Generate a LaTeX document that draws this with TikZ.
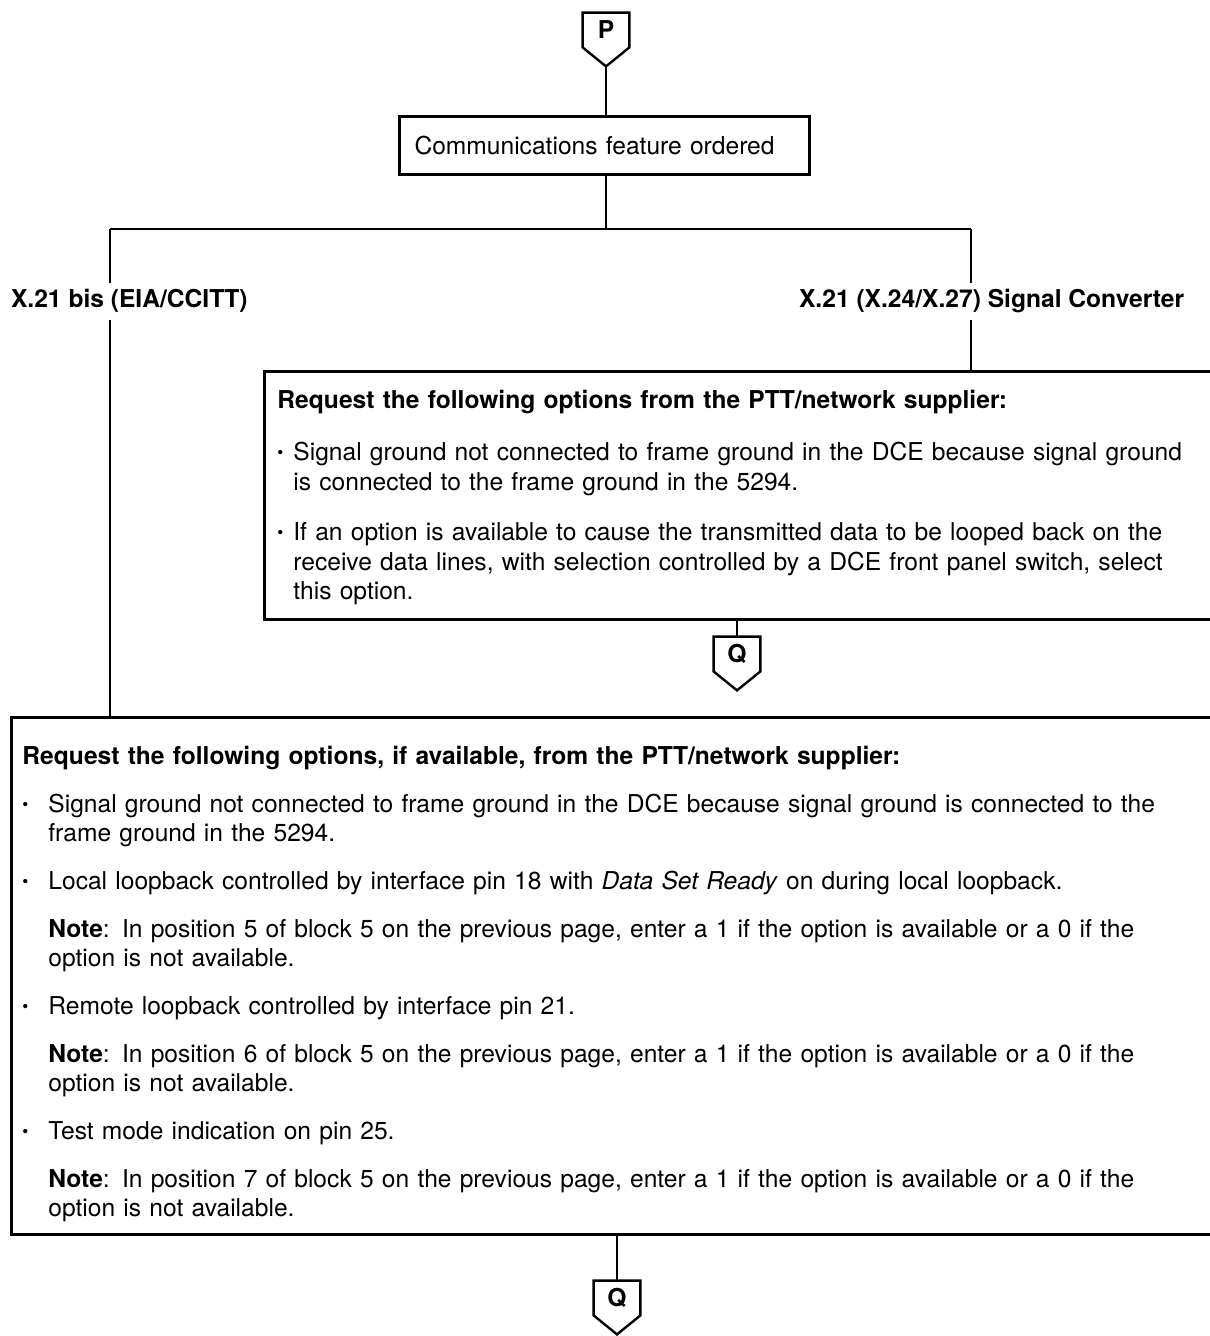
\documentclass[tikz,border=0pt]{standalone}
\usepackage{fontspec}
\setmainfont{TeX Gyre Heros}
\usepackage{graphicx}
\newlength{\hang}   % bullet indent
\newlength{\jw}     % width of a justified line
\newcommand{\bodyfont}{\fontsize{12.3pt}{14.5pt}\selectfont}
\newcommand{\bul}{\makebox[\hang][l]{\raisebox{0.15ex}{\scalebox{0.7}{\textbullet}}}}
\newcommand{\ind}{\hspace*{\hang}}
\newcommand{\jl}[1]{\makebox[\jw][s]{#1}}

\begin{document}
\begin{tikzpicture}[x=0.5pt,y=-0.5pt,font=\bodyfont,
  boxline/.style={line width=1.5pt},
  connline/.style={line width=1.2pt},
  offpage/.style={minimum width=23pt,minimum height=17pt,inner sep=0pt,font=\bodyfont\bfseries},
  branchlabel/.style={font=\bodyfont\bfseries,anchor=base west},
  textbox/.style={anchor=north west,inner ysep=0pt,align=left}]
  \useasboundingbox (0,0) rectangle (1209,1336);
  % off-page connectors
  \node[offpage] (P)  at (606,30)   {P};
  \node[offpage] (Q1) at (737,654)  {Q};
  \node[offpage] (Q2) at (617,1298) {Q};
  \foreach \c in {P,Q1,Q2}{
    \coordinate (\c-tip) at ([yshift=-9.5pt]\c.south);
    \draw[connline] (\c.south west) -- (\c.north west) -- (\c.north east)
      -- (\c.south east) -- (\c-tip) -- cycle;
  }
  % first decision
  \node[textbox,draw,boxline,minimum width=205pt,minimum height=29pt,
        text width=190pt,inner xsep=7.5pt] (comm) at (398,115)
    {Communications feature ordered};
  \draw[connline] (P-tip) -- (P-tip |- comm.north);
  \coordinate (split) at (606,229);
  \coordinate (leftturn) at (110,229);
  \coordinate (rightturn) at (971,229);
  \draw[connline] (P-tip |- comm.south) -- (split);
  \draw[connline] (leftturn) -- (rightturn);
  \node[branchlabel] (bis)  at (4,308)   {X.21 bis (EIA/CCITT)};
  \node[branchlabel] (conv) at (792,308) {X.21 (X.24/X.27) Signal Converter};
  % signal converter branch
  \node[textbox,minimum width=472.5pt,minimum height=123.5pt,
        text width=459.5pt,inner xsep=6.5pt] (upper) at (264,372)
  {\fontsize{12.3pt}{15pt}\selectfont\setlength{\hang}{8pt}\setlength{\jw}{444.5pt}%
   \rule{0pt}{11pt}\textbf{Request the following options from the PTT/network supplier:}\\[11pt]
   \bul\jl{Signal ground not connected to frame ground in the DCE because signal ground}\\
   \ind is connected to the frame ground in the 5294.\\[10pt]
   \bul\jl{If an option is available to cause the transmitted data to be looped back on the}\\
   \ind\jl{receive data lines, with selection controlled by a DCE front panel switch, select}\\
   \ind this option.};
  \draw[boxline] (upper.north east) -- (upper.north west) -- (upper.south west) -- (upper.south east);
  \draw[connline] (rightturn) -- (rightturn |- conv.north);
  \draw[connline] (rightturn |- conv.south) -- (rightturn |- upper.north);
  \draw[connline] (upper.south -| Q1) -- (Q1.north);
  % X.21 bis branch
  \node[textbox,minimum width=599pt,minimum height=258.5pt,
        text width=588pt,inner xsep=5.5pt] (lower) at (11,717)
  {\setlength{\hang}{13pt}\setlength{\jw}{558.5pt}%
   \rule{0pt}{17pt}\textbf{Request the following options, if available, from the PTT/network supplier:}\\[9.5pt]
   \bul\jl{Signal ground not connected to frame ground in the DCE because signal ground is connected to the}\\
   \ind frame ground in the 5294.\\[9.5pt]
   \bul Local loopback controlled by interface pin 18 with \textit{Data Set Ready} on during local loopback.\\[9.5pt]
   \ind\jl{\textbf{Note}:  In position 5 of block 5 on the previous page, enter a 1 if the option is available or a 0 if the}\\
   \ind option is not available.\\[9.5pt]
   \bul Remote loopback controlled by interface pin 21.\\[9.5pt]
   \ind\jl{\textbf{Note}:  In position 6 of block 5 on the previous page, enter a 1 if the option is available or a 0 if the}\\
   \ind option is not available.\\[9.5pt]
   \bul Test mode indication on pin 25.\\[9.5pt]
   \ind\jl{\textbf{Note}:  In position 7 of block 5 on the previous page, enter a 1 if the option is available or a 0 if the}\\
   \ind option is not available.};
  \draw[boxline] (lower.north east) -- (lower.north west) -- (lower.south west) -- (lower.south east);
  \draw[connline] (leftturn) -- (leftturn |- bis.north);
  \draw[connline] (leftturn |- bis.south) -- (leftturn |- lower.north);
  \draw[connline] (lower.south -| Q2) -- (Q2.north);
\end{tikzpicture}
\end{document}
